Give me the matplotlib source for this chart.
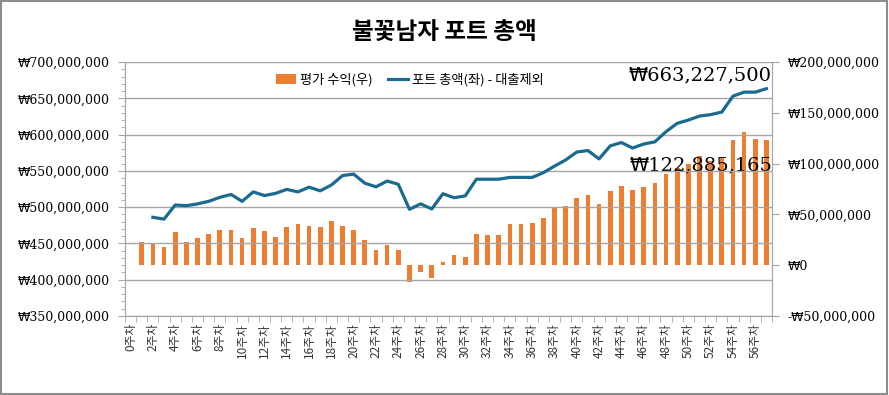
import numpy as np
import matplotlib
matplotlib.use("Agg")
import matplotlib.pyplot as plt
from matplotlib.ticker import MultipleLocator, FuncFormatter, FixedLocator
from matplotlib.patches import Rectangle

# weekly data (millions of won)
weeks = [f"{i}주차" for i in range(58)]

total = [np.nan, np.nan, 486, 483.5, 503, 502, 504.5, 508, 513.5, 517.5,
         508, 521, 516, 519, 524.5, 521, 527.5, 522.5, 530.5, 543.5,
         545.5, 533, 528, 536, 531.5, 497, 504.5, 497.5, 518.5, 513,
         515.5, 538.5, 538.5, 538.5, 541, 541, 541, 547.5, 556.5, 565,
         576, 578, 566.5, 584.5, 589, 581.5, 587, 590, 604, 615.5,
         620, 625.5, 627.5, 631, 653, 658.5, 658.5, 663.2275]

profit = [0.5, 23, 21.5, 18, 32.5, 23, 26.5, 30.5, 35, 35,
          26.5, 36.5, 34, 28, 38, 41, 39, 37.5, 44, 39,
          34.5, 24.5, 15, 19.5, 15, -17, -6.5, -13, 3, 10.5,
          8, 30.5, 30, 30, 41, 41, 42, 46, 57, 58.5,
          66, 69, 60.5, 73.5, 78, 74, 77, 80.5, 89.5, 96,
          100, 107, 103, 106, 123, 131, 124.5, 122.885165]

total = np.array(total) * 1e6
profit = np.array(profit) * 1e6

KR = ["Noto Sans CJK KR", "DejaVu Sans"]
SERIF = ["DejaVu Serif", "DejaVu Sans"]
ORANGE = "#ED7D31"
BLUE = "#1B6A8F"
GRID = "#a6a6a6"


def won(v, pos=None):
    if v < 0:
        return "-₩{:,.0f}".format(-v)
    return "₩{:,.0f}".format(v)


fig = plt.figure(figsize=(8.89, 3.95), dpi=100)
ax = fig.add_axes([0.1406, 0.2, 0.7278, 0.643])
ax2 = ax.twinx()
ax.set_zorder(ax2.get_zorder() + 1)
ax.patch.set_visible(False)

x = np.arange(len(weeks))
bars = ax2.bar(x, profit, width=0.42, color=ORANGE, label="평가 수익(우)")
line, = ax.plot(x, total, color=BLUE, lw=2.3, label="포트 총액(좌) - 대출제외")

ax.set_xlim(-0.5, len(weeks) - 0.5)
ax.set_ylim(350e6, 700e6)
ax2.set_ylim(-50e6, 200e6)

ax.yaxis.set_major_locator(MultipleLocator(50e6))
ax.yaxis.set_minor_locator(MultipleLocator(10e6))
ax.yaxis.set_major_formatter(FuncFormatter(won))
ax2.yaxis.set_major_locator(MultipleLocator(50e6))
ax2.yaxis.set_major_formatter(FuncFormatter(won))

ax.grid(axis="y", which="major", color=GRID, lw=1)
ax.set_axisbelow(True)

# x ticks: labels on even weeks, tick marks between categories
ax.xaxis.set_major_locator(FixedLocator(x[::2]))
ax.set_xticklabels(weeks[::2], rotation=90, family=KR, fontsize=8.5, color="#333333")
ax.xaxis.set_minor_locator(FixedLocator(np.arange(-0.5, len(weeks), 1)))
ax.tick_params(axis="x", which="major", length=0, pad=5)
ax.tick_params(axis="x", which="minor", length=4, color=GRID)

ax.tick_params(axis="y", which="major", length=5, color=GRID, labelsize=9, pad=6)
ax.tick_params(axis="y", which="minor", length=3, color=GRID)
ax2.tick_params(axis="y", length=5, color=GRID, labelsize=9, pad=6)
for lab in ax.get_yticklabels() + ax2.get_yticklabels():
    lab.set_family(SERIF)

for a in (ax, ax2):
    for s in a.spines.values():
        s.set_color(GRID)
ax2.spines["top"].set_visible(False)
ax.spines["top"].set_visible(False)

leg = ax.legend([bars, line], ["평가 수익(우)", "포트 총액(좌) - 대출제외"],
                loc="center", bbox_to_anchor=(0.44, 0.93), ncol=2, frameon=False,
                prop={"family": KR, "size": 9.5}, handlelength=1.5, columnspacing=1.2,
                handletextpad=0.3)

ax.annotate(won(total[-1]), xy=(x[-1], total[-1]), xytext=(4, 3), textcoords="offset points",
            ha="right", va="bottom", fontsize=14, family=SERIF)
ax2.annotate(won(profit[-1]), xy=(x[-1], profit[-1]), xytext=(4, -18), textcoords="offset points",
             ha="right", va="center", fontsize=14, family=SERIF)

fig.suptitle("불꽃남자 포트 총액", x=0.5, y=0.95, fontsize=17, fontweight="bold", family=KR)

fig.patches.append(Rectangle((0.001, 0.002), 0.997, 0.995, transform=fig.transFigure,
                             fill=False, edgecolor="#8c8c8c", lw=1.5))

fig.savefig("out.png", dpi=100)
